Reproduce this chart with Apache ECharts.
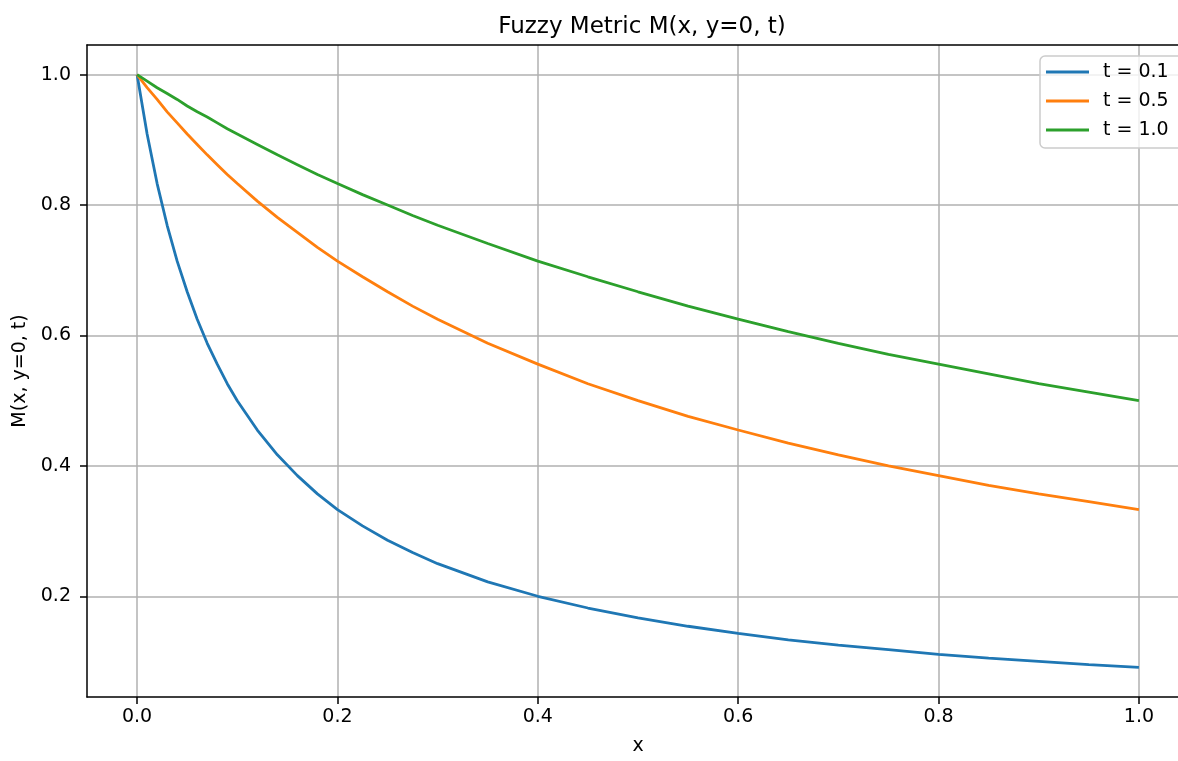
<!DOCTYPE html>
<html>
<head>
<meta charset="utf-8">
<script src="https://cdn.jsdelivr.net/npm/echarts@6/dist/echarts.min.js"></script>
<style>
  html, body { margin: 0; padding: 0; background: #fff; overflow: hidden; }
  #chart { width: 1192px; height: 761px; }
</style>
</head>
<body>
<div id="chart"></div>
<script>
// x positions where the curves were read
const xValues = [0, 0.01, 0.02, 0.03, 0.04, 0.05, 0.06, 0.07, 0.08, 0.09, 0.1,
  0.12, 0.14, 0.16, 0.18, 0.2, 0.225, 0.25, 0.275, 0.3, 0.35, 0.4, 0.45, 0.5,
  0.55, 0.6, 0.65, 0.7, 0.75, 0.8, 0.85, 0.9, 0.95, 1.0];

// M(x, y=0, t) for each t
const t01 = [1.0, 0.909, 0.833, 0.769, 0.714, 0.667, 0.625, 0.588, 0.556, 0.526, 0.5,
  0.455, 0.417, 0.385, 0.357, 0.333, 0.308, 0.286, 0.267, 0.25, 0.222, 0.2, 0.182, 0.167,
  0.154, 0.143, 0.133, 0.125, 0.118, 0.111, 0.105, 0.1, 0.095, 0.091];
const t05 = [1.0, 0.980, 0.962, 0.943, 0.926, 0.909, 0.893, 0.877, 0.862, 0.847, 0.833,
  0.806, 0.781, 0.758, 0.735, 0.714, 0.690, 0.667, 0.645, 0.625, 0.588, 0.556, 0.526, 0.5,
  0.476, 0.455, 0.435, 0.417, 0.4, 0.385, 0.370, 0.357, 0.345, 0.333];
const t10 = [1.0, 0.990, 0.980, 0.971, 0.962, 0.952, 0.943, 0.935, 0.926, 0.917, 0.909,
  0.893, 0.877, 0.862, 0.847, 0.833, 0.816, 0.8, 0.784, 0.769, 0.741, 0.714, 0.690, 0.667,
  0.645, 0.625, 0.606, 0.588, 0.571, 0.556, 0.541, 0.526, 0.513, 0.5];

const seriesNames = ['t = 0.1', 't = 0.5', 't = 1.0'];
const colors = ['#1f77b4', '#ff7f0e', '#2ca02c'];

const xTicks = [0, 0.2, 0.4, 0.6, 0.8, 1.0];
const yTicks = [0.2, 0.4, 0.6, 0.8, 1.0];

const font = 'DejaVu Sans';

function pairs(ys) {
  return xValues.map((x, i) => [x, ys[i]]);
}

const chart = echarts.init(document.getElementById('chart'));

const spine = { show: true, onZero: false, lineStyle: { color: '#000', width: 1.5 } };
const gridLine = { show: true, lineStyle: { color: '#b0b0b0', width: 1.5 } };
const nameStyle = { fontFamily: font, fontSize: 19, color: '#000' };

chart.setOption({
  animation: false,
  color: colors,
  title: {
    text: 'Fuzzy Metric M(x, y=0, t)',
    left: 637,
    textAlign: 'center',
    top: 11,
    textStyle: { fontFamily: font, fontSize: 23, fontWeight: 'normal', color: '#000' }
  },
  grid: { left: 87, top: 45, width: 1102, height: 658 },
  legend: {
    left: 1040, top: 56,
    orient: 'vertical',
    icon: 'rect',
    itemWidth: 43, itemHeight: 3,
    itemGap: 9,
    padding: [6, 60, 8, 6],
    backgroundColor: 'rgba(255,255,255,0.8)',
    borderColor: '#cccccc', borderWidth: 1.5, borderRadius: 5,
    textStyle: { fontFamily: font, fontSize: 19, lineHeight: 20, color: '#000', padding: [0, 0, 0, 9] },
    data: seriesNames
  },
  xAxis: [{
    type: 'value',
    min: -0.05, max: 1.05,
    name: 'x',
    nameLocation: 'middle',
    nameGap: 40,
    nameTextStyle: nameStyle,
    axisLine: spine,
    splitLine: gridLine,
    axisTick: { show: true, length: 7, customValues: xTicks, lineStyle: { color: '#000', width: 1.5 } },
    axisLabel: {
      customValues: xTicks,
      margin: 11,
      fontFamily: font, fontSize: 19, color: '#000',
      formatter: v => v.toFixed(1)
    }
  }, {
    // top spine only
    type: 'value',
    position: 'top',
    min: -0.05, max: 1.05,
    axisLine: spine,
    axisTick: { show: false },
    axisLabel: { show: false },
    splitLine: { show: false }
  }],
  yAxis: {
    type: 'value',
    min: 0.0455, max: 1.0455,
    name: 'M(x, y=0, t)',
    nameLocation: 'middle',
    nameRotate: 90,
    nameGap: 57,
    nameTextStyle: nameStyle,
    axisLine: spine,
    splitLine: gridLine,
    axisTick: { show: true, length: 7, customValues: yTicks, lineStyle: { color: '#000', width: 1.5 } },
    axisLabel: {
      customValues: yTicks,
      margin: 16,
      fontFamily: font, fontSize: 19, color: '#000',
      formatter: v => v.toFixed(1)
    }
  },
  series: [t01, t05, t10].map((ys, i) => ({
    name: seriesNames[i],
    type: 'line',
    data: pairs(ys),
    smooth: false,
    showSymbol: false,
    lineStyle: { width: 2.8, color: colors[i] },
    itemStyle: { color: colors[i] }
  }))
});
</script>
</body>
</html>
